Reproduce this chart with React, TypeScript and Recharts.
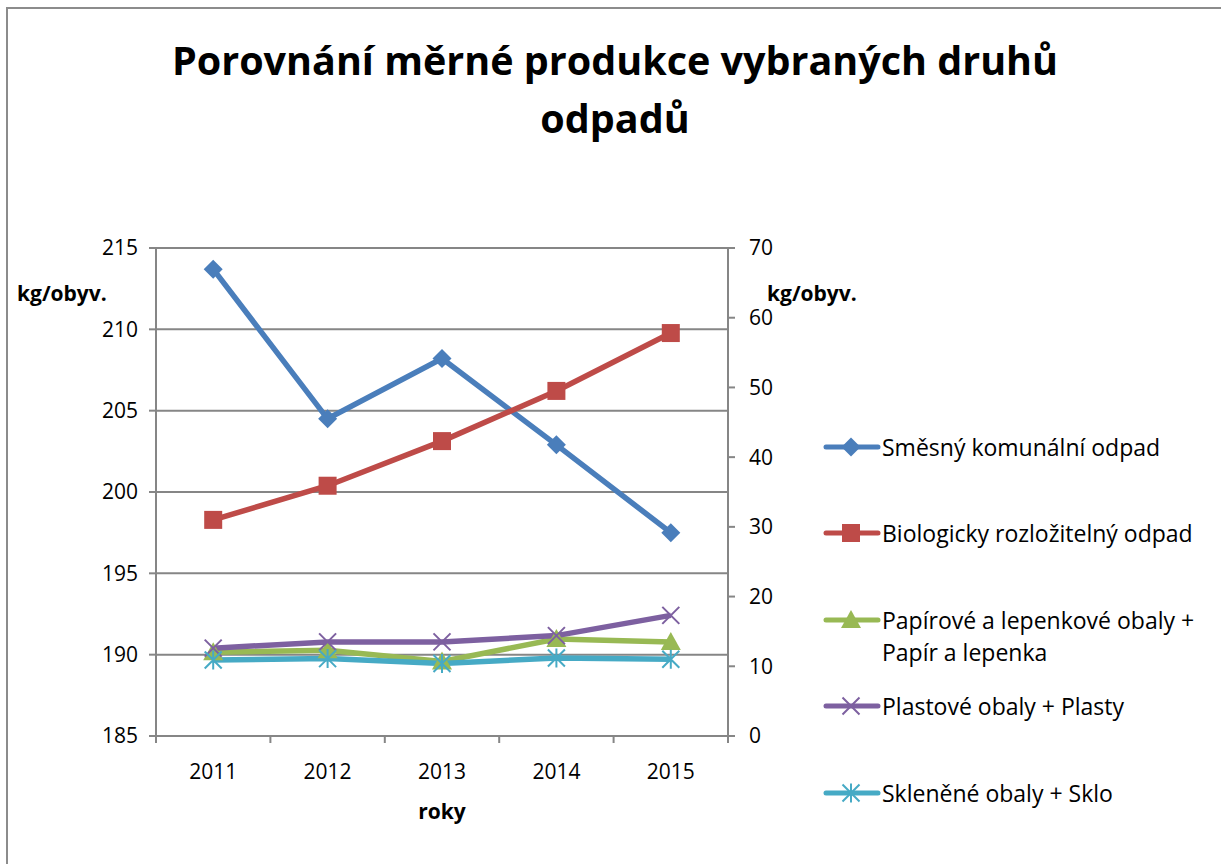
import React from 'react';
import { LineChart, Line, XAxis, YAxis, CartesianGrid } from 'recharts';

const years = ['2011', '2012', '2013', '2014', '2015'];
const smesny = [213.7, 204.5, 208.2, 202.9, 197.5];
const bio = [31.0, 35.9, 42.3, 49.5, 57.8];
const papir = [12.0, 12.3, 10.7, 13.9, 13.5];
const plast = [12.6, 13.5, 13.5, 14.4, 17.3];
const sklo = [10.9, 11.1, 10.4, 11.2, 11.0];

const leftTicks = [185, 190, 195, 200, 205, 210, 215];
const rightTicks = [0, 10, 20, 30, 40, 50, 60, 70];

const data = years.map((year, i) => ({
  year,
  smesny: smesny[i],
  bio: bio[i],
  papir: papir[i],
  plast: plast[i],
  sklo: sklo[i],
}));

const FONT = "'Open Sans', 'Liberation Sans', sans-serif";
const GRID = '#868686';
const BAND = 572 / years.length;

const diamond = (cx: number, cy: number, color: string, s = 9.5) => (
  <path d={`M${cx},${cy - s}L${cx + s},${cy}L${cx},${cy + s}L${cx - s},${cy}Z`} fill={color} />
);
const square = (cx: number, cy: number, color: string, s = 9) => (
  <rect x={cx - s} y={cy - s} width={s * 2} height={s * 2} fill={color} />
);
const triangle = (cx: number, cy: number, color: string, s = 10) => (
  <path d={`M${cx},${cy - s}L${cx + s},${cy + s * 0.8}L${cx - s},${cy + s * 0.8}Z`} fill={color} />
);
const cross = (cx: number, cy: number, color: string, s = 8.5) => (
  <path d={`M${cx - s},${cy - s}L${cx + s},${cy + s}M${cx + s},${cy - s}L${cx - s},${cy + s}`} stroke={color} strokeWidth={2} fill="none" />
);
const star = (cx: number, cy: number, color: string, s = 8.5) => (
  <path
    d={`M${cx - s},${cy - s}L${cx + s},${cy + s}M${cx + s},${cy - s}L${cx - s},${cy + s}M${cx},${cy - s - 1}L${cx},${cy + s + 1}`}
    stroke={color}
    strokeWidth={2}
    fill="none"
  />
);

const series = [
  { key: 'smesny', name: 'Směsný komunální odpad', color: '#4A7EBB', axis: 'left', marker: diamond },
  { key: 'bio', name: 'Biologicky rozložitelný odpad', color: '#BE4B48', axis: 'right', marker: square },
  { key: 'papir', name: 'Papírové a lepenkové obaly +\nPapír a lepenka', color: '#98B954', axis: 'right', marker: triangle },
  { key: 'plast', name: 'Plastové obaly + Plasty', color: '#7D60A0', axis: 'right', marker: cross },
  { key: 'sklo', name: 'Skleněné obaly + Sklo', color: '#46AAC5', axis: 'right', marker: star },
];

const legendRows = [447, 533, 620, 706, 793];

function YearTick(props: any) {
  const { x, y, payload, index } = props;
  const last = index === years.length - 1;
  return (
    <g>
      <line x1={x - BAND / 2} y1={736} x2={x - BAND / 2} y2={743} stroke={GRID} strokeWidth={2} />
      {last && <line x1={x + BAND / 2} y1={736} x2={x + BAND / 2} y2={743} stroke={GRID} strokeWidth={2} />}
      <text x={x} y={y + 43} textAnchor="middle" fontSize={21} fill="#000" fontFamily={FONT}>
        {payload.value}
      </text>
    </g>
  );
}

export default function App() {
  return (
    <div style={{ position: 'fixed', left: 0, top: 0, width: 1221, height: 864, overflow: 'hidden', background: '#fff', fontFamily: FONT }}>
      <div style={{ position: 'absolute', left: 6, top: 7, width: 1400, height: 1000, border: '2px solid #8c8c8c' }} />
      <div style={{ position: 'absolute', left: 0, top: 31, width: 1230, textAlign: 'center', fontWeight: 700, fontSize: 39.5, lineHeight: '58px', color: '#000' }}>
        Porovnání měrné produkce vybraných druhů
        <br />
        odpadů
      </div>
      <LineChart width={1221} height={864} data={data} margin={{ top: 248, bottom: 88, left: 96, right: 433 }}>
        <CartesianGrid yAxisId="left" vertical={false} stroke={GRID} strokeWidth={2} />
        <XAxis
          dataKey="year"
          height={40}
          padding={{ left: BAND / 2, right: BAND / 2 }}
          axisLine={{ stroke: GRID, strokeWidth: 2 }}
          tickLine={false}
          tickSize={0}
          tickMargin={0}
          tick={<YearTick />}
          interval={0}
        />
        <YAxis
          yAxisId="left"
          width={60}
          domain={[185, 215]}
          ticks={leftTicks}
          axisLine={{ stroke: GRID, strokeWidth: 2 }}
          tickLine={{ stroke: GRID, strokeWidth: 2 }}
          tickSize={7}
          tickMargin={11}
          tick={{ fill: '#000', fontSize: 21, fontFamily: FONT }}
        />
        <YAxis
          yAxisId="right"
          orientation="right"
          width={60}
          domain={[0, 70]}
          ticks={rightTicks}
          axisLine={{ stroke: GRID, strokeWidth: 2 }}
          tickLine={{ stroke: GRID, strokeWidth: 2 }}
          tickSize={7}
          tickMargin={14}
          tick={{ fill: '#000', fontSize: 21, fontFamily: FONT }}
        />
        {series.map((s) => (
          <Line
            key={s.key}
            yAxisId={s.axis}
            dataKey={s.key}
            name={s.name}
            stroke={s.color}
            strokeWidth={5.5}
            isAnimationActive={false}
            dot={(p: any) => <g key={`${s.key}-${p.index}`}>{s.marker(p.cx, p.cy, s.color)}</g>}
            activeDot={false}
          />
        ))}
      </LineChart>
      <div style={{ position: 'absolute', left: 17, top: 278, fontWeight: 700, fontSize: 21, lineHeight: '30px' }}>kg/obyv.</div>
      <div style={{ position: 'absolute', left: 767, top: 278, fontWeight: 700, fontSize: 21, lineHeight: '30px' }}>kg/obyv.</div>
      <div style={{ position: 'absolute', left: 392, top: 796, width: 100, textAlign: 'center', fontWeight: 700, fontSize: 21, lineHeight: '30px' }}>roky</div>
      {series.map((s, i) => (
        <div key={s.key} style={{ position: 'absolute', left: 823, top: legendRows[i] - 16, width: 398, height: 80 }}>
          <svg width={58} height={32} style={{ position: 'absolute', left: 0, top: 0 }}>
            <line x1={3} y1={16} x2={55} y2={16} stroke={s.color} strokeWidth={5} strokeLinecap="round" />
            {s.marker(28, 16, s.color)}
          </svg>
          <div style={{ position: 'absolute', left: 59, top: 0, whiteSpace: 'pre', fontSize: 23, lineHeight: '32px', color: '#000' }}>
            {s.name}
          </div>
        </div>
      ))}
    </div>
  );
}
